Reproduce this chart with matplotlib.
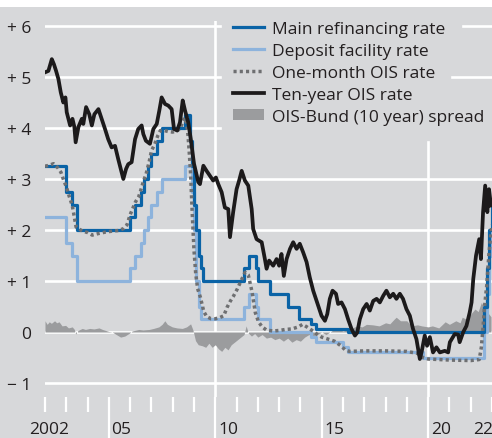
import matplotlib
matplotlib.use("Agg")
import matplotlib.pyplot as plt
from matplotlib.lines import Line2D
from matplotlib.patches import Patch, Rectangle

plt.rcParams['font.family'] = ['Open Sans', 'DejaVu Sans']

# ---------------- data ----------------
refi_dates = [2002.0, 2003.0, 2003.25, 2003.5, 2006.0, 2006.25, 2006.5, 2006.67, 2006.83, 2007.0,
              2007.25, 2007.5, 2008.58, 2008.83, 2008.92, 2009.0, 2009.08, 2009.25, 2009.33, 2009.42,
              2011.33, 2011.58, 2011.92, 2012.0, 2012.58, 2013.42, 2013.92, 2014.5, 2014.75, 2016.25,
              2022.63, 2022.75, 2022.88, 2023.0]
refi_values = [3.25, 2.75, 2.5, 2.0, 2.25, 2.5, 2.75, 3.0, 3.25, 3.5,
               3.75, 4.0, 4.25, 3.75, 3.25, 2.5, 2.0, 1.5, 1.25, 1.0,
               1.25, 1.5, 1.25, 1.0, 0.75, 0.5, 0.25, 0.15, 0.05, 0.0,
               0.5, 1.25, 2.0, 2.5]

depo_dates = [2002.0, 2003.0, 2003.25, 2003.5, 2006.0, 2006.25, 2006.5, 2006.67, 2006.83, 2007.0,
              2007.25, 2007.5, 2008.58, 2008.92, 2009.0, 2009.08, 2009.25, 2009.33, 2011.33, 2011.58,
              2011.92, 2012.0, 2012.58, 2014.5, 2014.75, 2016.0, 2016.25, 2019.75, 2022.63, 2022.75,
              2022.88, 2023.0]
depo_values = [2.25, 1.75, 1.5, 1.0, 1.25, 1.5, 1.75, 2.0, 2.25, 2.5,
               2.75, 3.0, 3.25, 2.75, 2.0, 1.0, 0.5, 0.25, 0.5, 0.75,
               0.5, 0.25, 0.0, -0.1, -0.2, -0.3, -0.4, -0.5, 0.0, 0.75,
               1.5, 2.0]

ois1m_dates = [2002.0, 2002.2, 2002.4, 2002.6, 2002.75, 2002.9, 2003.0, 2003.13, 2003.28, 2003.38,
               2003.46, 2003.6, 2003.75, 2004.0, 2004.22, 2004.5, 2004.85, 2005.2, 2005.47, 2005.7,
               2005.85, 2006.0, 2006.12, 2006.25, 2006.4, 2006.5, 2006.62, 2006.75, 2006.9, 2007.0,
               2007.15, 2007.3, 2007.42, 2007.6, 2007.8, 2008.0, 2008.2, 2008.35, 2008.45, 2008.55,
               2008.65, 2008.72, 2008.78, 2008.84, 2008.92, 2009.0, 2009.08, 2009.17, 2009.3, 2009.46,
               2009.6, 2009.8, 2010.0, 2010.2, 2010.4, 2010.55, 2010.7, 2010.85, 2011.03, 2011.25,
               2011.4, 2011.55, 2011.73, 2011.88, 2012.03, 2012.2, 2012.4, 2012.7, 2013.0, 2013.3,
               2013.6, 2013.9, 2014.1, 2014.3, 2014.55, 2014.8, 2015.0, 2015.3, 2015.6, 2015.9,
               2016.1, 2016.3, 2017.0, 2018.0, 2019.0, 2019.5, 2019.75, 2020.0, 2021.0, 2022.0,
               2022.4, 2022.5, 2022.58, 2022.65, 2022.75, 2022.85, 2022.95, 2023.0]
ois1m_values = [3.25, 3.27, 3.3, 3.22, 3.13, 2.95, 2.85, 2.67, 2.48, 2.25,
                2.06, 2.02, 1.98, 1.95, 1.9, 1.93, 1.96, 1.98, 1.99, 2.03,
                2.1, 2.3, 2.42, 2.55, 2.65, 2.78, 2.95, 3.1, 3.35, 3.55,
                3.68, 3.85, 3.95, 3.95, 3.93, 3.92, 3.95, 3.98, 4.1, 4.2,
                4.1, 3.85, 3.5, 3.1, 2.3, 1.6, 1.15, 0.85, 0.68, 0.4,
                0.3, 0.26, 0.26, 0.28, 0.32, 0.48, 0.6, 0.7, 0.84, 1.04,
                1.17, 1.12, 0.78, 0.38, 0.2, 0.1, 0.04, 0.02, 0.03, 0.05,
                0.06, 0.1, 0.15, 0.1, 0.03, -0.05, -0.1, -0.14, -0.18, -0.27,
                -0.35, -0.38, -0.37, -0.37, -0.38, -0.42, -0.5, -0.53, -0.55, -0.56,
                -0.54, -0.3, 0.1, 0.5, 0.9, 1.5, 1.95, 2.1]

ois10y_dates = [2002.05, 2002.16, 2002.32, 2002.42, 2002.52, 2002.63, 2002.74, 2002.86, 2002.96, 2003.02,
                2003.18, 2003.29, 2003.38, 2003.44, 2003.57, 2003.73, 2003.80, 2003.93, 2004.08, 2004.20,
                2004.32, 2004.51, 2004.66, 2004.82, 2004.97, 2005.13, 2005.29, 2005.44, 2005.68, 2005.81,
                2005.91, 2006.07, 2006.23, 2006.38, 2006.54, 2006.62, 2006.74, 2006.93, 2007.09, 2007.25,
                2007.37, 2007.48, 2007.64, 2007.79, 2007.95, 2008.06, 2008.21, 2008.34, 2008.47, 2008.58,
                2008.73, 2008.85, 2009.00, 2009.20, 2009.28, 2009.44, 2009.59, 2009.75, 2009.90, 2010.03,
                2010.14, 2010.30, 2010.45, 2010.61, 2010.69, 2010.84, 2011.00, 2011.12, 2011.24, 2011.39,
                2011.55, 2011.71, 2011.78, 2011.94, 2012.18, 2012.33, 2012.41, 2012.53, 2012.72, 2012.88,
                2013.00, 2013.11, 2013.22, 2013.35, 2013.51, 2013.66, 2013.82, 2013.97, 2014.13, 2014.29,
                2014.44, 2014.60, 2014.83, 2014.99, 2015.15, 2015.26, 2015.38, 2015.51, 2015.67, 2015.77,
                2015.93, 2016.09, 2016.24, 2016.40, 2016.56, 2016.67, 2016.79, 2016.95, 2017.11, 2017.26,
                2017.42, 2017.58, 2017.73, 2017.89, 2018.04, 2018.20, 2018.36, 2018.51, 2018.67, 2018.82,
                2018.98, 2019.14, 2019.29, 2019.45, 2019.61, 2019.69, 2019.84, 2019.95, 2020.08, 2020.23,
                2020.39, 2020.55, 2020.78, 2020.94, 2021.02, 2021.25, 2021.41, 2021.48, 2021.65, 2021.80,
                2021.95, 2022.04, 2022.12, 2022.25, 2022.40, 2022.48, 2022.58, 2022.68, 2022.78, 2022.86,
                2022.95]
ois10y_values = [5.1, 5.12, 5.35, 5.25, 5.12, 4.96, 4.70, 4.50, 4.60, 4.31,
                 4.05, 4.18, 4.02, 3.72, 4.02, 4.18, 4.08, 4.41, 4.27, 4.05,
                 4.27, 4.37, 4.18, 3.98, 3.78, 3.62, 3.65, 3.39, 3.00, 3.20,
                 3.29, 3.33, 3.78, 3.98, 4.05, 3.88, 3.75, 3.69, 3.98, 4.08,
                 4.34, 4.60, 4.47, 4.44, 4.37, 3.98, 3.95, 4.11, 4.54, 4.34,
                 4.11, 3.78, 3.30, 2.94, 2.90, 3.26, 3.16, 3.06, 2.97, 3.03,
                 2.90, 2.74, 2.44, 2.41, 1.86, 2.35, 2.80, 2.97, 3.16, 2.97,
                 2.87, 2.41, 2.02, 1.82, 1.76, 1.43, 1.24, 1.40, 1.30, 1.43,
                 1.30, 1.53, 1.10, 1.43, 1.63, 1.76, 1.63, 1.73, 1.56, 1.37,
                 1.07, 0.81, 0.52, 0.32, 0.22, 0.35, 0.65, 0.81, 0.75, 0.55,
                 0.58, 0.45, 0.25, 0.06, -0.07, -0.01, 0.25, 0.45, 0.55, 0.42,
                 0.61, 0.65, 0.58, 0.71, 0.81, 0.68, 0.75, 0.65, 0.75, 0.65,
                 0.45, 0.32, 0.06, -0.14, -0.53, -0.40, -0.07, -0.27, -0.10, -0.40,
                 -0.30, -0.40, -0.37, -0.40, -0.20, -0.04, -0.05, -0.20, 0.0, 0.12,
                 0.38, 0.58, 1.04, 1.50, 1.82, 1.43, 2.35, 2.87, 2.35, 2.80,
                 2.48]

spread_dates = [2002.0, 2002.1, 2002.2, 2002.3, 2002.45, 2002.55, 2002.66, 2002.8, 2002.97, 2003.1,
                2003.28, 2003.38, 2003.44, 2003.55, 2003.75, 2003.9, 2004.1, 2004.3, 2004.54, 2004.7,
                2004.85, 2005.0, 2005.16, 2005.35, 2005.55, 2005.75, 2005.94, 2006.1, 2006.41, 2006.6,
                2006.9, 2007.1, 2007.35, 2007.5, 2007.63, 2007.75, 2007.98, 2008.2, 2008.45, 2008.65,
                2008.84, 2008.95, 2009.07, 2009.2, 2009.39, 2009.55, 2009.7, 2009.85, 2010.0, 2010.15,
                2010.3, 2010.45, 2010.6, 2010.75, 2010.9, 2011.05, 2011.2, 2011.35, 2011.45, 2011.55,
                2011.7, 2011.85, 2012.0, 2012.2, 2012.4, 2012.6, 2012.8, 2013.0, 2013.2, 2013.4,
                2013.6, 2013.8, 2014.0, 2014.2, 2014.4, 2014.6, 2014.8, 2015.0, 2015.2, 2015.5,
                2015.8, 2016.0, 2016.3, 2016.65, 2016.9, 2017.1, 2017.4, 2017.7, 2018.0, 2018.2,
                2018.4, 2018.5, 2018.7, 2019.0, 2019.2, 2019.5, 2019.7, 2020.0, 2020.2, 2020.5,
                2020.8, 2021.0, 2021.3, 2021.5, 2021.6, 2021.8, 2022.0, 2022.2, 2022.35, 2022.5,
                2022.65, 2022.8, 2022.95]
spread_values = [0.22, 0.15, 0.2, 0.17, 0.22, 0.18, 0.2, 0.12, 0.13, 0.08,
                 0.1, 0.05, -0.04, 0.03, 0.07, 0.05, 0.07, 0.06, 0.08, 0.05,
                 0.03, 0.01, 0.0, -0.05, -0.1, -0.08, -0.03, 0.02, 0.05, 0.04,
                 0.05, 0.07, 0.1, 0.15, 0.22, 0.15, 0.1, 0.08, 0.07, 0.1,
                 0.16, 0.04, -0.17, -0.25, -0.27, -0.3, -0.22, -0.3, -0.25, -0.33,
                 -0.38, -0.3, -0.35, -0.25, -0.2, -0.15, -0.1, -0.05, 0.12, -0.02,
                 -0.08, -0.03, -0.1, -0.05, -0.12, -0.1, -0.15, -0.12, -0.18, -0.12,
                 -0.2, -0.15, -0.18, -0.1, -0.05, -0.08, -0.05, 0.0, -0.05, 0.03,
                 0.05, 0.02, 0.05, 0.12, 0.1, 0.15, 0.14, 0.12, 0.18, 0.16,
                 0.25, 0.29, 0.22, 0.22, 0.12, 0.14, 0.12, 0.1, 0.12, 0.08,
                 0.2, 0.15, 0.22, 0.18, 0.29, 0.25, 0.35, 0.45, 0.4, 0.58,
                 0.45, 0.38, 0.3]

ytick_values = [-1, 0, 1, 2, 3, 4, 5, 6]
ytick_labels = ['\u2212 1', '0', '+ 1', '+ 2', '+ 3', '+ 4', '+ 5', '+ 6']
year_ticks = list(range(2002, 2024))
long_ticks = [2005, 2010, 2015, 2020]
xlabel_years = [2002, 2005, 2010, 2015, 2020, 2022]
xlabel_texts = ['2002', '05', '10', '15', '20', '22']

legend_labels = ['Main refinancing rate', 'Deposit facility rate', 'One-month OIS rate',
                 'Ten-year OIS rate', 'OIS-Bund (10 year) spread']

# ---------------- style ----------------
BG = '#d7d8da'
C_REFI = '#0a63a6'
C_DEPO = '#8db3dc'
C_OIS1 = '#6e6f71'
C_OIS10 = '#1c1a1b'
C_SPREAD = '#9b9c9e'
C_TEXT = '#231f20'
W, H = 492, 439
FS = 12.5

fig = plt.figure(figsize=(W / 100, H / 100), dpi=100, facecolor=BG)
fig.add_artist(Rectangle((0, 1 - 8 / H), 1, 8 / H, transform=fig.transFigure,
                         facecolor='white', edgecolor='none'))

ax_left, ax_right, ax_top, ax_bot = 45, 492, 22, 398
ax = fig.add_axes([ax_left / W, (H - ax_bot) / H, (ax_right - ax_left) / W, (ax_bot - ax_top) / H])
ax.set_facecolor(BG)
for s in ax.spines.values():
    s.set_visible(False)

ppu = 51.0  # pixels per unit
y0_px = 333
ax.set_xlim(2002.0, 2023.0)
ax.set_ylim((y0_px - ax_bot) / ppu, (y0_px - ax_top) / ppu)

# gridlines (white), partially hidden behind legend
GW = 1.9
xf = lambda px: (px - ax_left) / (ax_right - ax_left)
for yv in [-1, 0, 1, 2, 3]:
    ax.axhline(yv, color='white', lw=GW, zorder=0.5)
ax.axhline(4, xmin=0, xmax=xf(220), color='white', lw=GW, zorder=0.5)
ax.axhline(5, xmin=0, xmax=xf(220), color='white', lw=GW, zorder=0.5)
ax.axhline(5, xmin=xf(452), xmax=1, color='white', lw=GW, zorder=0.5)
ax.axhline(6, xmin=0, xmax=xf(220), color='white', lw=GW, zorder=0.5)
ax.axhline(6, xmin=xf(463), xmax=1, color='white', lw=GW, zorder=0.5)
ax.axvline(2010, color='white', lw=GW, zorder=0.5)
ax.axvline(2020, ymin=0, ymax=(ax_bot - 143) / (ax_bot - ax_top), color='white', lw=GW, zorder=0.5)

# data
ax.fill_between(spread_dates, 0, spread_values, color=C_SPREAD, lw=0, zorder=1)
ax.plot(depo_dates, depo_values, drawstyle='steps-post', color=C_DEPO, lw=2.3, zorder=2)
ax.plot(refi_dates, refi_values, drawstyle='steps-post', color=C_REFI, lw=2.3, zorder=3)
ax.plot(ois1m_dates, ois1m_values, color=C_OIS1, lw=2.5, ls=(0, (0.9, 0.9)),
        dash_capstyle='butt', zorder=4)
ax.plot(ois10y_dates, ois10y_values, color=C_OIS10, lw=2.7, solid_joinstyle='round', zorder=5)

# y ticks
ax.set_yticks(ytick_values)
ax.set_yticklabels(ytick_labels)
ax.tick_params(axis='y', length=0, pad=10, labelsize=FS, labelcolor=C_TEXT)

# x ticks: white, short for each year, long every five years
ax.set_xticks(long_ticks)
ax.set_xticklabels([])
ax.set_xticks([y for y in year_ticks if y not in long_ticks], minor=True)
ax.tick_params(axis='x', which='major', direction='out', length=(H - ax_bot) * 0.72,
               width=1.6, color='white')
ax.tick_params(axis='x', which='minor', direction='out', length=15 * 0.72,
               width=1.6, color='white')
ax.yaxis.set_minor_locator(matplotlib.ticker.NullLocator())

label_y = (y0_px - 430) / ppu
for yr, txt in zip(xlabel_years, xlabel_texts):
    if txt == '2002':
        ax.text(yr + 0.2, label_y, txt, ha='center', va='center', fontsize=FS,
                color=C_TEXT, clip_on=False)
    else:
        ax.text(yr + 0.13, label_y, txt, ha='left', va='center', fontsize=FS,
                color=C_TEXT, clip_on=False)

# legend
handles = [Line2D([], [], color=C_REFI, lw=2.3),
           Line2D([], [], color=C_DEPO, lw=2.3),
           Line2D([], [], color=C_OIS1, lw=2.5, ls=(0, (0.9, 0.9)), dash_capstyle='butt'),
           Line2D([], [], color=C_OIS10, lw=2.7),
           Patch(facecolor=C_SPREAD, edgecolor='none')]
leg = fig.legend(handles, legend_labels, loc='upper left',
                 bbox_to_anchor=(233 / W, 1 - 22 / H), bbox_transform=fig.transFigure,
                 frameon=False, fontsize=FS, handlelength=1.78, handletextpad=0.46,
                 labelspacing=0.34, borderpad=0, borderaxespad=0, handleheight=0.6)
for t in leg.get_texts():
    t.set_color(C_TEXT)

fig.savefig('out.png', dpi=100, facecolor=BG)
